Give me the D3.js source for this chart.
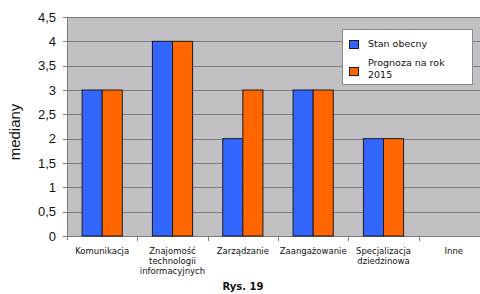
<!DOCTYPE html>
<html>
<head>
<meta charset="utf-8">
<script src="https://cdn.jsdelivr.net/npm/d3@7"></script>
<style>
  body { margin: 0; background: #fff; }
  svg { display: block; }
</style>
</head>
<body>
<div id="chart"></div>
<script>
// dane z wykresu
var categories = [
  ["Komunikacja"],
  ["Znajomość", "technologii", "informacyjnych"],
  ["Zarządzanie"],
  ["Zaangażowanie"],
  ["Specjalizacja", "dziedzinowa"],
  ["Inne"]
];
var seriesNames = ["Stan obecny", "Prognoza na rok 2015"];
var stanObecny = [3, 4, 2, 3, 2, 0];
var prognoza2015 = [3, 4, 3, 3, 2, 0];
var yTicks = [0, 0.5, 1, 1.5, 2, 2.5, 3, 3.5, 4, 4.5];
var colors = ["#3366ff", "#ff6600"];

var W = 480, H = 294;
var plot = { left: 67, top: 17, right: 489, bottom: 236 };

var svg = d3.select("#chart").append("svg")
    .attr("width", W)
    .attr("height", H);

var x = d3.scaleBand()
    .domain(d3.range(categories.length))
    .range([plot.left, plot.right]);

var y = d3.scaleLinear()
    .domain([0, 4.5])
    .range([plot.bottom, plot.top]);

// tlo obszaru wykresu
svg.append("rect")
    .attr("x", plot.left)
    .attr("y", plot.top)
    .attr("width", plot.right - plot.left)
    .attr("height", plot.bottom - plot.top)
    .style("fill", "#c2c0c5");

// linie siatki
svg.append("g").selectAll("line").data(yTicks).enter().append("line")
    .attr("x1", plot.left - 4)
    .attr("x2", plot.right)
    .attr("y1", d => Math.round(y(d)) + 0.5)
    .attr("y2", d => Math.round(y(d)) + 0.5)
    .style("stroke", "#7c7c7c")
    .style("stroke-width", 1);

// os Y - etykiety
svg.append("g").selectAll("text").data(yTicks).enter().append("text")
    .attr("x", 56)
    .attr("y", d => y(d) + 4.5)
    .attr("text-anchor", "end")
    .style("font-family", "Liberation Sans, Arial, sans-serif")
    .style("font-size", "13px")
    .style("fill", "#111")
    .text(d => String(d).replace(".", ","));

// os Y i X
svg.append("line")
    .attr("x1", plot.left + 0.5).attr("x2", plot.left + 0.5)
    .attr("y1", plot.top).attr("y2", plot.bottom + 4)
    .style("stroke", "#7c7c7c");
svg.append("line")
    .attr("x1", plot.left).attr("x2", plot.right)
    .attr("y1", Math.round(y(0)) + 0.5).attr("y2", Math.round(y(0)) + 0.5)
    .style("stroke", "#7c7c7c");

// znaczniki kategorii
svg.append("g").selectAll("line").data(d3.range(1, categories.length)).enter().append("line")
    .attr("x1", d => Math.round(x(d)) + 0.5)
    .attr("x2", d => Math.round(x(d)) + 0.5)
    .attr("y1", plot.bottom)
    .attr("y2", plot.bottom + 5)
    .style("stroke", "#7c7c7c");

// slupki (gap width 150%)
var bw = x.bandwidth() / 3.5;
var series = [stanObecny, prognoza2015];
series.forEach(function(vals, s) {
  var rows = vals.map((v, i) => ({ v: v, i: i })).filter(d => d.v > 0);
  svg.append("g").selectAll("rect").data(rows).enter().append("rect")
      .attr("x", d => x(d.i) + bw * 0.75 + s * bw)
      .attr("y", d => y(d.v))
      .attr("width", bw)
      .attr("height", d => y(0) - y(d.v))
      .style("fill", colors[s])
      .style("stroke", "#1a1a1a")
      .style("stroke-width", 1);
});

// etykiety kategorii
var catG = svg.append("g").selectAll("text").data(categories).enter().append("text")
    .attr("x", (d, i) => x(i) + x.bandwidth() / 2)
    .attr("y", 253.5)
    .attr("text-anchor", "middle")
    .style("font-family", "DejaVu Sans, Verdana, sans-serif")
    .style("font-size", "8.5px")
    .style("fill", "#111");
catG.selectAll("tspan").data(d => d).enter().append("tspan")
    .attr("x", function() { return d3.select(this.parentNode).attr("x"); })
    .attr("dy", (d, i) => i === 0 ? 0 : 10)
    .text(d => d);

// tytul osi Y
svg.append("text")
    .attr("transform", "translate(20,132) rotate(-90)")
    .attr("text-anchor", "middle")
    .style("font-family", "Liberation Sans, Arial, sans-serif")
    .style("font-size", "15px")
    .style("fill", "#111")
    .text("mediany");

// legenda
var lg = svg.append("g");
lg.append("rect")
    .attr("x", 342.5).attr("y", 29.5)
    .attr("width", 130).attr("height", 55)
    .style("fill", "#fff")
    .style("stroke", "#8a8a8a");
var legendRows = [
  { lines: ["Stan obecny"], y: 47 },
  { lines: ["Prognoza na rok", "2015"], y: 65.5 }
];
legendRows.forEach(function(r, i) {
  lg.append("rect")
    .attr("x", 349.5).attr("y", i === 0 ? 40.5 : 67.5)
    .attr("width", 9).attr("height", 8)
    .style("fill", colors[i])
    .style("stroke", "#1a1a1a");
  var t = lg.append("text")
    .attr("x", 368).attr("y", r.y)
    .style("font-family", "DejaVu Sans, Verdana, sans-serif")
    .style("font-size", "9.5px")
    .style("fill", "#111");
  t.selectAll("tspan").data(r.lines).enter().append("tspan")
    .attr("x", 368)
    .attr("dy", (d, j) => j === 0 ? 0 : 12.5)
    .text(d => d);
});

// podpis
svg.append("text")
    .attr("x", 243).attr("y", 290)
    .attr("text-anchor", "middle")
    .style("font-family", "DejaVu Sans, Verdana, sans-serif")
    .style("font-size", "10px")
    .style("font-weight", "bold")
    .style("fill", "#111")
    .text("Rys. 19");
</script>
</body>
</html>
